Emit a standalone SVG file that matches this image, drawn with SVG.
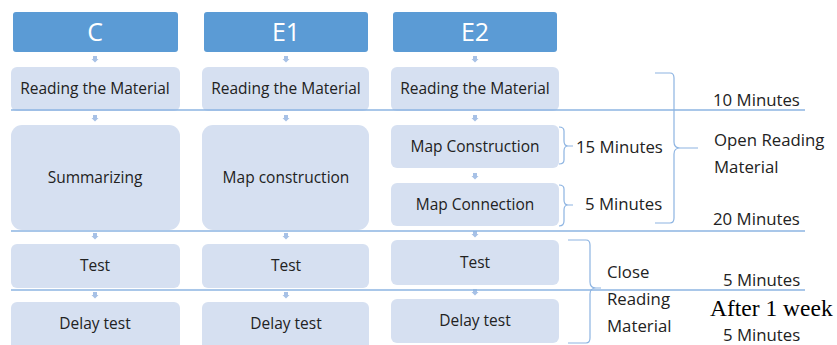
<svg xmlns="http://www.w3.org/2000/svg" width="837" height="345" viewBox="0 0 837 345">
<style>
.hdr{fill:#5B9BD5}
.box{fill:#D6E0F1}
.ht{font-family:"Open Sans","Liberation Sans",sans-serif;font-size:25px;fill:#fff;text-anchor:middle}
.bt{font-family:"Open Sans","Liberation Sans",sans-serif;font-size:15.5px;fill:#222;text-anchor:middle}
.lt{font-family:"Open Sans","Liberation Sans",sans-serif;font-size:16.8px;fill:#222}
.serif{font-family:"Liberation Serif",serif;font-size:23.5px;fill:#000}
.sep{stroke:#8DB4E2;stroke-width:1.3;fill:none}
.br{stroke:#8DB4E2;stroke-width:1.2;fill:none}
.ar{fill:#A7C1E6}
</style>
<defs>
<path id="arr" class="ar" d="M-2,-3 H2 V0 H3.5 L0,3.5 L-3.5,0 H-2 Z"/>
</defs>
<g id="connectors">
<use href="#arr" x="95" y="59"/><use href="#arr" x="286" y="59"/><use href="#arr" x="475" y="59"/>
<use href="#arr" x="95" y="118"/><use href="#arr" x="286" y="118"/><use href="#arr" x="475" y="118"/>
<use href="#arr" x="475" y="176"/>
<use href="#arr" x="95" y="236"/><use href="#arr" x="286" y="236"/><use href="#arr" x="475" y="234"/>
<use href="#arr" x="95" y="295"/><use href="#arr" x="286" y="295"/><use href="#arr" x="475" y="292"/>
</g>
<g id="C-header"><rect class="hdr" x="13" y="12" width="165" height="40" rx="3"/><text class="ht" x="95" y="41">C</text></g>
<g id="E1-header"><rect class="hdr" x="204" y="12" width="164" height="40" rx="3"/><text class="ht" x="286" y="41">E1</text></g>
<g id="E2-header"><rect class="hdr" x="393" y="12" width="164" height="40" rx="3"/><text class="ht" x="475" y="41">E2</text></g>
<g id="C-read"><rect class="box" x="11" y="67" width="169" height="44" rx="6"/><text class="bt" x="95" y="94">Reading the Material</text></g>
<g id="E1-read"><rect class="box" x="202" y="67" width="167" height="44" rx="6"/><text class="bt" x="286" y="94">Reading the Material</text></g>
<g id="E2-read"><rect class="box" x="391" y="67" width="168" height="44" rx="6"/><text class="bt" x="475" y="94">Reading the Material</text></g>
<g id="C-sum"><rect class="box" x="11" y="125" width="169" height="105" rx="11"/><text class="bt" x="95" y="183">Summarizing</text></g>
<g id="E1-map"><rect class="box" x="202" y="125" width="167" height="105" rx="11"/><text class="bt" x="286" y="183">Map construction</text></g>
<g id="E2-mapcons"><rect class="box" x="391" y="125" width="168" height="43" rx="6"/><text class="bt" x="475" y="152">Map Construction</text></g>
<g id="E2-mapconn"><rect class="box" x="391" y="183" width="168" height="43" rx="6"/><text class="bt" x="475" y="210">Map Connection</text></g>
<g id="C-test"><rect class="box" x="11" y="244" width="169" height="44" rx="6"/><text class="bt" x="95" y="271">Test</text></g>
<g id="E1-test"><rect class="box" x="202" y="244" width="167" height="44" rx="6"/><text class="bt" x="286" y="271">Test</text></g>
<g id="E2-test"><rect class="box" x="391" y="240" width="168" height="45" rx="6"/><text class="bt" x="475" y="268">Test</text></g>
<g id="C-delay"><rect class="box" x="11" y="302" width="169" height="48" rx="6"/><text class="bt" x="95" y="329">Delay test</text></g>
<g id="E1-delay"><rect class="box" x="202" y="302" width="167" height="48" rx="6"/><text class="bt" x="286" y="329">Delay test</text></g>
<g id="E2-delay"><rect class="box" x="391" y="299" width="168" height="44" rx="6"/><text class="bt" x="475" y="326">Delay test</text></g>
<g id="separators">
<line class="sep" x1="11" y1="110" x2="805" y2="110"/>
<line class="sep" x1="11" y1="231" x2="805" y2="231"/>
<line class="sep" x1="11" y1="290" x2="805" y2="290"/>
</g>
<g id="brackets">
<path class="br" d="M559,127 Q564,127 564,131 V141 Q564,146 568,146 H573 M568,146 Q564,146 564,151 V160 Q564,164 559,164"/>
<path class="br" d="M559,185 Q564,185 564,189 V200 Q564,205 568,205 H573 M568,205 Q564,205 564,210 V221 Q564,226 559,226"/>
<path class="br" d="M655,73 H670 Q674,73 674,78 V142 Q674,148 680,148 H698 M680,148 Q674,148 674,154 V218 Q674,223 670,223 H655"/>
<path class="br" d="M568,240 H586 Q590,240 590,245 V282 Q590,288 596,288 H601 M596,288 Q590,288 590,294 V338 Q590,343 586,343 H568"/>
</g>
<g id="labels">
<text class="lt" x="576" y="153">15 Minutes</text>
<text class="lt" x="585" y="210">5 Minutes</text>
<text class="lt" x="713" y="106">10 Minutes</text>
<text class="lt" x="714" y="146">Open Reading</text>
<text class="lt" x="714" y="173">Material</text>
<text class="lt" x="713" y="225">20 Minutes</text>
<text class="lt" x="607" y="278">Close</text>
<text class="lt" x="723" y="286">5 Minutes</text>
<text class="lt" x="607" y="305">Reading</text>
<text class="serif" x="710" y="316">After 1 week</text>
<text class="lt" x="607" y="332">Material</text>
<text class="lt" x="723" y="341">5 Minutes</text>
</g>
</svg>
